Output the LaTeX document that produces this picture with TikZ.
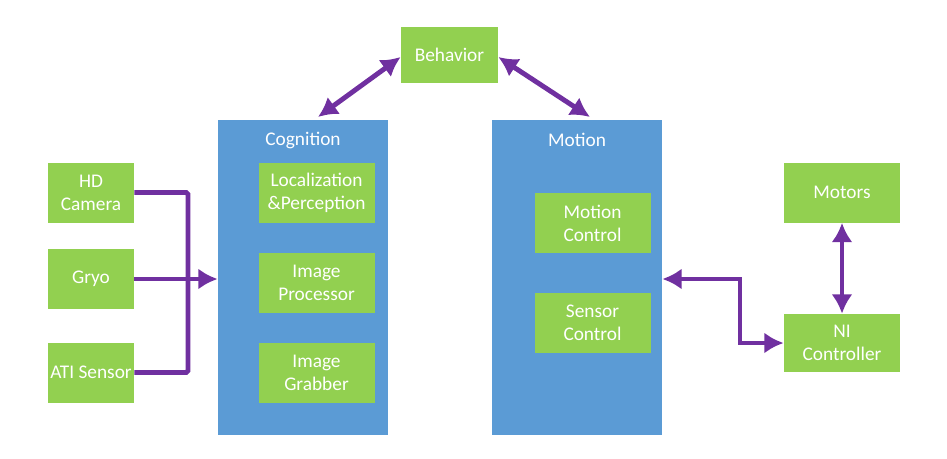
\documentclass[tikz,border=0pt]{standalone}
\usepackage{fontspec}
\setmainfont{Carlito}
\usetikzlibrary{arrows.meta,positioning,calc}
\definecolor{mygreen}{RGB}{146,208,80}
\definecolor{myblue}{RGB}{91,155,213}
\definecolor{mypurple}{RGB}{112,48,160}
\tikzset{
    line/.style   = {{Latex[length=11pt,width=12pt]}-{Latex[length=11pt,width=12pt]}, line width=2.8pt, draw=mypurple},
    oneway/.style = {-{Latex[length=11pt,width=12pt]}, line width=2.8pt, draw=mypurple},
    plain/.style  = {line width=2.8pt, draw=mypurple},
    gbox/.style   = {fill=mygreen, text=white, align=center, inner sep=0pt,
            minimum width=23.2mm, minimum height=12mm, font=\fontsize{11}{13}\selectfont},
    sbox/.style   = {gbox, minimum width=17.2mm},
    panel/.style  = {fill=myblue, minimum width=34mm, minimum height=63mm, inner sep=0pt},
}
\begin{document}
\begin{tikzpicture}[x=0.2mm,y=-0.2mm]
    \useasboundingbox (0,0) rectangle (947,458);
    % Nodes
    \node[gbox, minimum width=19.4mm, minimum height=11.2mm] (behav) at (449.5,55) {Behavior};
    \node[panel] (cogn) at (303,277.5) {};
    \node[panel] (motion) at (577,277.5) {};
    \node[text=white, font=\fontsize{11}{13}\selectfont] (cognlbl) at (303,140) {Cognition};
    \node[text=white, font=\fontsize{11}{13}\selectfont] (motionlbl) at (577,140) {Motion};
    \node[gbox] (local) at (316.5,193) {Localization\\\&Perception};
    \node[gbox] (proc) at (316.5,283) {Image\\Processor};
    \node[gbox] (grab) at (316.5,373) {Image\\Grabber};
    \node[gbox] (mctrl) at (592.5,223) {Motion\\Control};
    \node[gbox] (sctrl) at (592.5,323) {Sensor\\Control};
    \node[sbox] (cam) at (91,192.5) {HD\\Camera};
    \node[sbox] (gryo) at (91,279) {Gryo};
    \node[sbox] (ati) at (91,372.5) {ATI Sensor};
    \node[gbox] (motors) at (842,192.5) {Motors};
    \node[gbox, minimum height=11.6mm] (ni) at (842,343) {NI\\Controller};
    \coordinate (bus) at (188,279);
    \coordinate (bend) at (740,279);

    % Arrows
    \draw[line] (318,117) -- (behav.west |- 0,57);
    \draw[line] (behav.east |- 0,57) -- (590,117);
    \draw[plain, rounded corners=1pt] (cam.east) -| (bus) |- (ati.east);
    \draw[oneway] (gryo.east) -- (cogn.west |- gryo);
    \draw[line] (motion.east |- bend) -- (bend) |- (ni.west);
    \draw[line] (motors) -- (ni);
\end{tikzpicture}
\end{document}
